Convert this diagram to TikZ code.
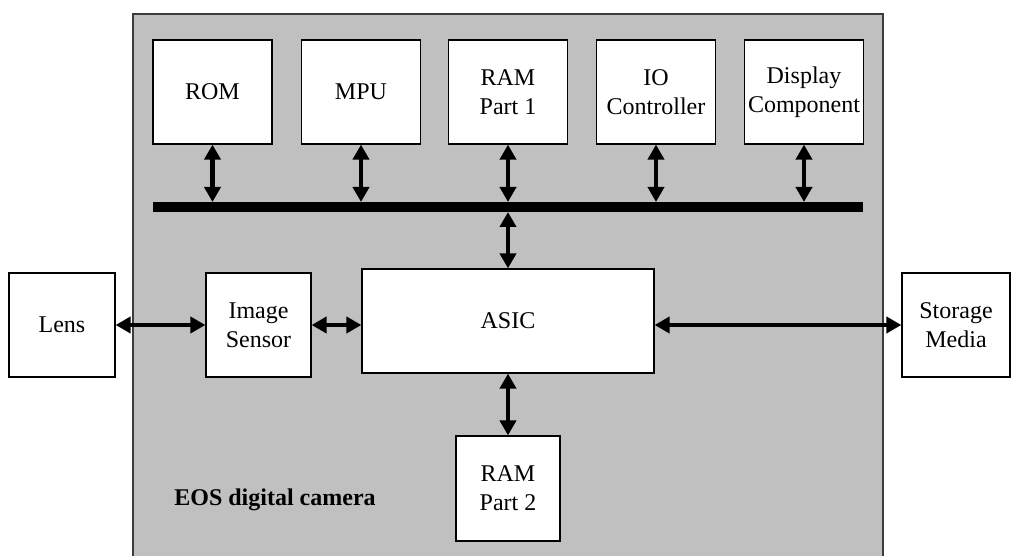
\documentclass[tikz,border=0pt]{standalone}
\usepackage{fontspec}
\setmainfont{Liberation Serif}
\usepackage{tikz}
\usetikzlibrary{arrows.meta}
\definecolor{camgray}{RGB}{192,192,192}
\definecolor{edgegray}{RGB}{60,60,60}

\begin{document}
\begin{tikzpicture}[x=0.5pt,y=-0.5pt,
    block/.style={draw=black, line width=0.6pt, fill=white, inner sep=0pt,
                  align=center, font=\fontsize{12}{14.5}\selectfont},
    link/.style={line width=2.4pt, {Triangle[width=8pt,length=7.5pt]}-{Triangle[width=8pt,length=7.5pt]}}]
\useasboundingbox (0,0) rectangle (1014,556);

% camera housing
\fill[camgray] (133,14) rectangle (883,556);
\draw[edgegray, line width=0.6pt] (133,556) -- (133,14) -- (883,14) -- (883,556);

% system bus
\coordinate (busL) at (153,207);
\coordinate (busR) at (863,207);
\coordinate (bustop) at (153,202);
\coordinate (busbot) at (153,212);
\draw[line width=5pt] (busL) -- (busR);

% components on the bus
\foreach \name/\cx/\txt in {rom/212.5/ROM, mpu/361/MPU, ram1/508/{RAM\\Part 1},
                            io/656/{IO\\Controller}, disp/804/{Display\\Component}} {
    \node[block, minimum width=59.5pt, minimum height=52pt] (\name) at (\cx,92) {\txt};
    \draw[link] (\name.south) -- (\name.south |- bustop);
}

% image path
\node[block, minimum width=53pt, minimum height=52pt] (lens) at (62,325) {Lens};
\node[block, minimum width=52.5pt, minimum height=52pt] (sensor) at (258.5,325) {Image\\Sensor};
\node[block, minimum width=146pt, minimum height=52pt] (asic) at (508,321) {ASIC};
\node[block, minimum width=54pt, minimum height=52pt] (storage) at (956,325) {Storage\\Media};
\node[block, minimum width=52pt, minimum height=52.5pt] (ram2) at (508,488.5) {RAM\\Part 2};

\draw[link] (lens.east) -- (sensor.west);
\draw[link] (sensor.east) -- (asic.west |- sensor.east);
\draw[link] (asic.east |- storage.west) -- (storage.west);
\draw[link] (asic.north |- busbot) -- (asic.north);
\draw[link] (asic.south) -- (ram2.north);

\node[font=\fontsize{12}{14.5}\selectfont\bfseries] (camlabel) at (275,500) {EOS digital camera};
\end{tikzpicture}
\end{document}
